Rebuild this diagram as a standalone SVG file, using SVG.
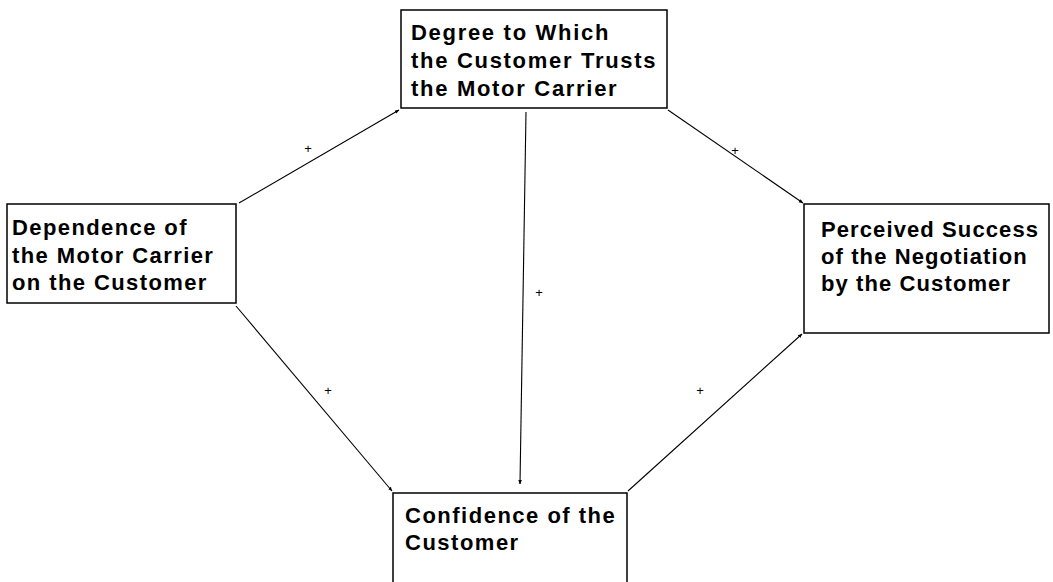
<svg xmlns="http://www.w3.org/2000/svg" width="1053" height="582" viewBox="0 0 1053 582">
<style>
.box{fill:#fff;stroke:#000;stroke-width:1.5}
.t{font-family:"Liberation Sans",Arial,sans-serif;font-weight:bold;font-size:22px;letter-spacing:1.7px;fill:#000}
.c{stroke:#000;stroke-width:1.1;fill:none;marker-end:url(#ah)}
.p{font-family:"Liberation Sans",Arial,sans-serif;font-size:13px;fill:#000}
</style>
<defs>
<marker id="ah" viewBox="0 0 10 10" refX="9" refY="5" markerWidth="4.5" markerHeight="4.5" orient="auto" markerUnits="userSpaceOnUse"><path d="M0,1 L10,5 L0,9 z" fill="#000"/></marker>
</defs>
<g id="connectors">
<line class="c" x1="239" y1="203" x2="399" y2="110"/>
<line class="c" x1="668" y1="110" x2="803" y2="203"/>
<line class="c" x1="526" y1="112" x2="520" y2="484"/>
<line class="c" x1="236" y1="306" x2="392" y2="491"/>
<line class="c" x1="628" y1="491" x2="802" y2="334"/>
<text class="p" x="308" y="153" text-anchor="middle">+</text>
<text class="p" x="735" y="155" text-anchor="middle">+</text>
<text class="p" x="539" y="297" text-anchor="middle">+</text>
<text class="p" x="328" y="395" text-anchor="middle">+</text>
<text class="p" x="700" y="395" text-anchor="middle">+</text>
</g>
<g id="trust">
<rect class="box" x="401" y="10" width="266" height="98"/>
<text class="t" x="411" y="40">Degree to Which</text>
<text class="t" x="411" y="68">the Customer Trusts</text>
<text class="t" x="411" y="96">the Motor Carrier</text>
</g>
<g id="dependence">
<rect class="box" x="7" y="204" width="229" height="99"/>
<text class="t" x="12" y="235" style="letter-spacing:1.4px">Dependence of</text>
<text class="t" x="12" y="263" style="letter-spacing:1.4px">the Motor Carrier</text>
<text class="t" x="12" y="290" style="letter-spacing:1.4px">on the Customer</text>
</g>
<g id="success">
<rect class="box" x="804" y="204" width="245" height="129"/>
<text class="t" x="821" y="237" style="letter-spacing:1.1px">Perceived Success</text>
<text class="t" x="821" y="264" style="letter-spacing:1.1px">of the Negotiation</text>
<text class="t" x="821" y="291" style="letter-spacing:1.1px">by the Customer</text>
</g>
<g id="confidence">
<path class="box" d="M393,600 L393,493 L627,493 L627,600"/>
<text class="t" x="405" y="523" style="letter-spacing:1.5px">Confidence of the</text>
<text class="t" x="405" y="550" style="letter-spacing:1.5px">Customer</text>
</g>
</svg>
